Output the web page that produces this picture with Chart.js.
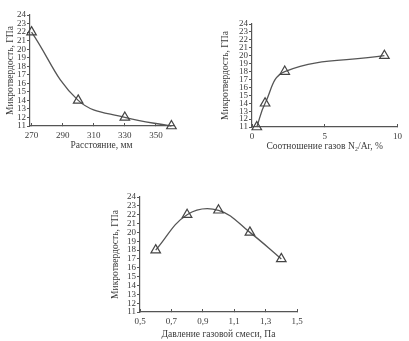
<!DOCTYPE html>
<html>
<head>
<meta charset="utf-8">
<script src="https://cdn.jsdelivr.net/npm/chart.js@4"></script>
<style>
  body { margin: 0; background: #fff; width: 409px; height: 341px; position: relative; overflow: hidden; }
  canvas { position: absolute; }
</style>
</head>
<body>
<canvas id="c1" width="185" height="152" style="left:0;top:0"></canvas>
<canvas id="c2" width="194" height="153" style="left:215px;top:0"></canvas>
<canvas id="c3" width="205" height="161" style="left:105px;top:180px"></canvas>
<script>
// Расстояние
const distX = [270, 300, 330, 360];
const distY = [22, 14, 12, 11];
const distTicks = [270, 290, 310, 330, 350];

// Соотношение газов N2/Ar
const ratioX = [0.33, 0.9, 2.25, 9.1];
const ratioY = [11, 14, 18, 20];
const ratioTicks = [0, 5, 10];

// Давление газовой смеси
const pressX = [0.6, 0.8, 1.0, 1.2, 1.4];
const pressY = [18, 22, 22.5, 20, 17];
const pressTicks = [0.5, 0.7, 0.9, 1.1, 1.3, 1.5];

const yTicks = [11, 12, 13, 14, 15, 16, 17, 18, 19, 20, 21, 22, 23, 24];

const FONT = '"Liberation Serif", "Times New Roman", serif';
const TEXT = "#3a3a3a";
const LINE = "#555";

function drawChart(id, xs, ys, xTicks, xTitle, o) {
  const pts = xs.map((x, i) => ({ x: x, y: ys[i] }));
  new Chart(document.getElementById(id), {
    type: "line",
    data: {
      datasets: [{
        data: pts,
        borderColor: LINE,
        borderWidth: 1.3,
        tension: 0.4,
        pointStyle: "triangle",
        pointRadius: 5.5,
        pointBorderWidth: 1.2,
        pointBackgroundColor: "rgba(255,255,255,0)",
        pointBorderColor: "#444",
        clip: false,
      }],
    },
    options: {
      responsive: false,
      animation: false,
      layout: { padding: o.pad },
      plugins: { legend: { display: false }, tooltip: { enabled: false } },
      scales: {
        x: {
          type: "linear",
          min: o.xMin,
          max: o.xMax,
          afterBuildTicks: (s) => { s.ticks = xTicks.map((v) => ({ value: v })); },
          afterFit: (s) => { s.height = o.xH; },
          grid: { display: true, drawOnChartArea: false, tickLength: -3, color: LINE },
          border: { color: LINE, width: 1.2 },
          ticks: {
            padding: 7,
            color: TEXT,
            font: { family: FONT, size: 9 },
            maxRotation: 0,
            callback: (v) => o.fmt ? o.fmt(v) : v,
          },
          title: {
            display: true,
            text: xTitle,
            color: TEXT,
            font: { family: FONT, size: 9.5 },
            padding: { top: 0, bottom: 1 },
          },
        },
        y: {
          min: 11,
          max: 24,
          afterBuildTicks: (s) => { s.ticks = yTicks.map((v) => ({ value: v })); },
          afterFit: (s) => { s.width = o.yW; },
          grid: { display: true, drawOnChartArea: false, tickLength: 3, color: LINE },
          border: { color: LINE, width: 1.2 },
          ticks: {
            padding: 1,
            color: TEXT,
            font: { family: FONT, size: 9 },
            autoSkip: false,
          },
          title: {
            display: true,
            text: "Микротвердость, ГПа",
            color: TEXT,
            font: { family: FONT, size: 9.5 },
            padding: { top: 4.3, bottom: 0 },
          },
        },
      },
    },
  });
}

drawChart("c1", distX, distY, distTicks, "Расстояние, мм", {
  xMin: 269, xMax: 361, yW: 30, xH: 26,
  pad: { top: 15, right: 12, left: 0, bottom: 0 },
});

drawChart("c2", ratioX, ratioY, ratioTicks, "Соотношение газов N₂/Ar, %", {
  xMin: 0, xMax: 10, yW: 37, xH: 26,
  pad: { top: 24, right: 8, left: 0, bottom: 0 },
});

drawChart("c3", pressX, pressY, pressTicks, "Давление газовой смеси, Па", {
  xMin: 0.5, xMax: 1.5, yW: 35, xH: 29,
  pad: { top: 17, right: 13, left: 0, bottom: 0 },
  fmt: (v) => v.toFixed(1).replace(".", ","),
});
</script>
</body>
</html>
